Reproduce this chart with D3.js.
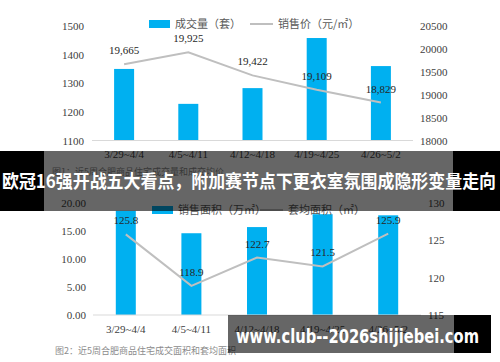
<!DOCTYPE html>
<html>
<head>
<meta charset="utf-8">
<script src="https://cdn.jsdelivr.net/npm/d3@7"></script>
<style>
  body { margin: 0; background: #fff; }
  svg { display: block; }
</style>
</head>
<body>
<svg width="500" height="362"></svg>
<script>
// week categories (shared by both charts)
const weeks = ["3/29~4/4", "4/5~4/11", "4/12~4/18", "4/19~4/25", "4/26~5/2"];

// chart 1: units sold and price
const unitsSold = [1350, 1228, 1283, 1458, 1360];
const avgPrice = [19665, 19925, 19422, 19109, 18829];
const unitTicks = [1100, 1200, 1300, 1400, 1500];
const priceTicks = [18000, 18500, 19000, 19500, 20000, 20500];

// chart 2: area sold and average area per unit
const areaSold = [18.6, 14.6, 15.7, 18.0, 17.8];
const avgArea = [125.8, 118.9, 122.7, 121.5, 125.9];
const areaTicks = [0, 5, 10, 15, 20];
const avgAreaTicks = [115, 120, 125, 130];

const barColor = "#00b0f0";
const lineColor = "#bfbfbf";
const serif = "'Liberation Serif', 'DejaVu Serif', serif";
const cjk = "'Noto Sans CJK SC', sans-serif";

const svg = d3.select("svg");

function styleNum(sel, size) {
    sel.attr("font-family", serif).attr("font-size", size).attr("fill", "#404040");
}

function drawCombo(cfg) {
    const g = svg.append("g");
    const x = d3.scaleBand().domain(weeks).range([cfg.x0, cfg.x1]);
    const yL = d3.scaleLinear().domain(cfg.leftDomain).range([cfg.bottom, cfg.top]);
    const yR = d3.scaleLinear().domain(cfg.rightDomain).range([cfg.bottom, cfg.top]);
    const bw = 20;
    const cx = (i) => x(weeks[i]) + x.bandwidth() / 2;

    // bars
    g.selectAll("rect.bar")
        .data(cfg.bars)
        .enter()
        .append("rect")
        .attr("fill", barColor)
        .attr("x", (d, i) => cx(i) - bw / 2)
        .attr("width", bw)
        .attr("y", d => yL(d))
        .attr("height", d => cfg.bottom - yL(d));

    // baseline
    g.append("line")
        .attr("x1", cfg.x0).attr("x2", cfg.x1)
        .attr("y1", cfg.bottom).attr("y2", cfg.bottom)
        .attr("stroke", "#d9d9d9").attr("stroke-width", 1);

    // line
    const line = d3.line()
        .x((d, i) => cx(i))
        .y(d => yR(d));
    g.append("path")
        .datum(cfg.line)
        .attr("d", line)
        .attr("fill", "none")
        .attr("stroke", lineColor)
        .attr("stroke-width", 2);

    // line labels
    g.selectAll("text.lbl")
        .data(cfg.line)
        .enter()
        .append("text")
        .attr("text-anchor", "middle")
        .attr("x", (d, i) => cx(i))
        .attr("y", d => yR(d) - 10)
        .text(d => cfg.lineFmt(d))
        .call(styleNum, 11)
        .attr("fill", "#262626");

    // left axis
    const axL = d3.axisLeft(yL).tickValues(cfg.leftTicks).tickSize(0).tickPadding(0).tickFormat(cfg.leftFmt);
    const gl = g.append("g").attr("transform", `translate(${cfg.leftX},0)`).call(axL);
    gl.select(".domain").remove();
    gl.attr("font-family", serif);
    gl.selectAll("text").call(styleNum, 11);

    // right axis
    const axR = d3.axisRight(yR).tickValues(cfg.rightTicks).tickSize(0).tickPadding(0).tickFormat(d3.format("d"));
    const gr = g.append("g").attr("transform", `translate(${cfg.rightX},0)`).call(axR);
    gr.select(".domain").remove();
    gr.attr("font-family", serif);
    gr.selectAll("text").call(styleNum, 11);

    // category axis
    const axB = d3.axisBottom(x).tickSize(0).tickPadding(0);
    const gb = g.append("g").attr("transform", `translate(0,${cfg.bottom + 10})`).call(axB);
    gb.select(".domain").remove();
    gb.attr("font-family", serif);
    gb.selectAll("text").call(styleNum, 11);

    // legend
    const lg = g.append("g").attr("transform", `translate(0,${cfg.legendY})`);
    lg.append("rect").attr("x", cfg.legendX).attr("y", -4).attr("width", 21).attr("height", 8).attr("fill", barColor);
    lg.append("text").attr("font-family", cjk).attr("x", cfg.legendX + 26).attr("y", 4)
        .attr("font-size", 11).attr("fill", "#595959").text(cfg.barName);
    lg.append("line").attr("x1", cfg.lineLegendX).attr("x2", cfg.lineLegendX + 23)
        .attr("y1", 0).attr("y2", 0).attr("stroke", lineColor).attr("stroke-width", 2);
    lg.append("text").attr("font-family", cjk).attr("x", cfg.lineLegendX + 28).attr("y", 4)
        .attr("font-size", 11).attr("fill", "#595959").text(cfg.lineName);

    // caption
    g.append("text").attr("font-family", cjk).attr("x", cfg.captionX).attr("y", cfg.captionY)
        .attr("font-size", 9).attr("fill", "#8c8c8c").text(cfg.caption);
}

drawCombo({
    x0: 92, x1: 413, top: 26, bottom: 140.5,
    bars: unitsSold, line: avgPrice,
    leftDomain: [1100, 1500], rightDomain: [18000, 20500],
    leftTicks: unitTicks, rightTicks: priceTicks,
    leftFmt: d3.format("d"), lineFmt: d3.format(","),
    leftX: 84, rightX: 420,
    legendX: 149, lineLegendX: 250, legendY: 24,
    barName: "成交量（套）", lineName: "销售价（元/㎡）",
    caption: "图1：近5周合肥商品住宅成交量和成交均价", captionX: 52, captionY: 175
});

drawCombo({
    x0: 93, x1: 421, top: 203, bottom: 315,
    bars: areaSold, line: avgArea,
    leftDomain: [0, 20], rightDomain: [115, 130],
    leftTicks: areaTicks, rightTicks: avgAreaTicks,
    leftFmt: d3.format(".2f"), lineFmt: d3.format(".1f"),
    leftX: 86, rightX: 428,
    legendX: 152, lineLegendX: 260, legendY: 210,
    barName: "销售面积（万㎡）", lineName: "套均面积（㎡）",
    caption: "图2：近5周合肥商品住宅成交面积和套均面积", captionX: 55, captionY: 354
});

// headline banner overlay: black side bars, darkened middle
svg.append("rect").attr("x", 0).attr("y", 151).attr("width", 44).attr("height", 60).attr("fill", "#000");
svg.append("rect").attr("x", 453).attr("y", 151).attr("width", 47).attr("height", 60).attr("fill", "#000");
svg.append("rect").attr("x", 44).attr("y", 151).attr("width", 409).attr("height", 60).attr("fill", "#000").attr("opacity", 0.6);
svg.append("text")
    .attr("font-family", cjk)
    .attr("x", 2).attr("y", 188)
    .attr("font-size", 18).attr("font-weight", "bold").attr("fill", "#fff")
    .attr("textLength", 494).attr("lengthAdjust", "spacingAndGlyphs")
    .text("欧冠16强开战五大看点，附加赛节点下更衣室氛围成隐形变量走向");

// watermark bar
svg.append("rect").attr("x", 454).attr("y", 315).attr("width", 37).attr("height", 38).attr("fill", "#000");
svg.append("rect").attr("x", 228).attr("y", 315).attr("width", 226).attr("height", 38).attr("fill", "#000").attr("opacity", 0.6);
svg.append("text")
    .attr("x", 236).attr("y", 343)
    .attr("font-family", "'DejaVu Sans', sans-serif")
    .attr("font-size", 19).attr("font-weight", "bold").attr("fill", "#fff")
    .attr("textLength", 243).attr("lengthAdjust", "spacingAndGlyphs")
    .text("www.club--2026shijiebei.com");
</script>
</body>
</html>
